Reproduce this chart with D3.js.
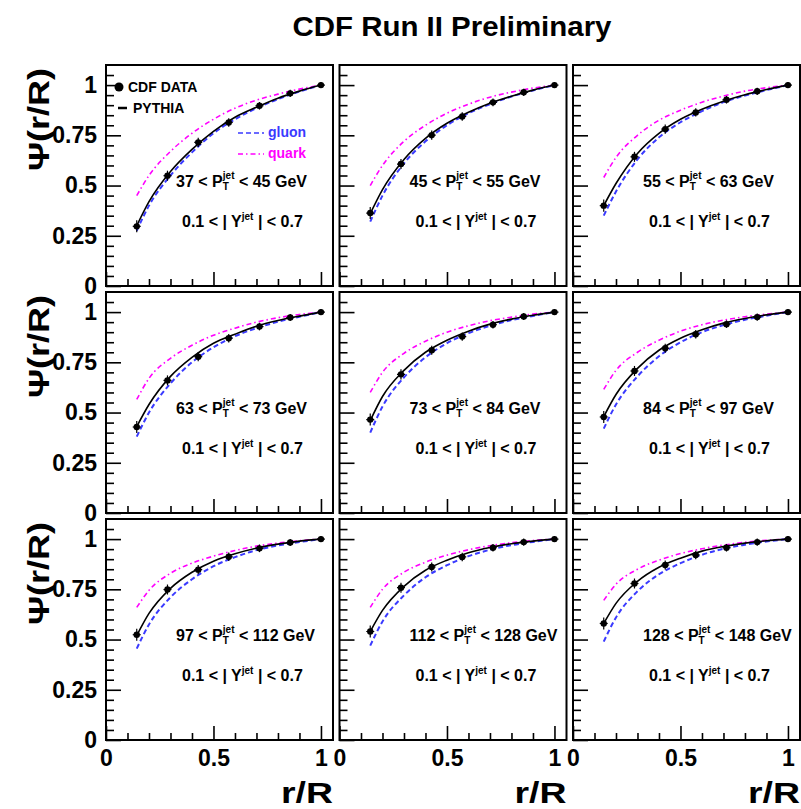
<!DOCTYPE html>
<html>
<head>
<meta charset="utf-8">
<script src="https://cdn.jsdelivr.net/npm/d3@7/dist/d3.min.js"></script>
<style>
  html, body { margin: 0; padding: 0; background: #fff; }
  svg { display: block; font-family: "Liberation Sans", Arial, Helvetica, sans-serif; }
</style>
</head>
<body>
<svg id="chart" width="801" height="809"></svg>
<script>
// ---------------- data ----------------
const chartTitle = "CDF Run II Preliminary";
const ptLow  = [37, 45, 55, 63, 73, 84, 97, 112, 128];
const ptHigh = [45, 55, 63, 73, 84, 97, 112, 128, 148];
const rapidityLabel = ["0.1", "0.7"];

// r/R positions of CDF data points (r = 0.1 ... 0.7, R = 0.7)
const dataR = [0.143, 0.286, 0.429, 0.571, 0.714, 0.857, 1.0];
const cdfData = [
  [0.297, 0.549, 0.715, 0.814, 0.897, 0.959, 1.0],
  [0.363, 0.607, 0.751, 0.844, 0.914, 0.964, 1.0],
  [0.400, 0.643, 0.781, 0.864, 0.927, 0.969, 1.0],
  [0.428, 0.660, 0.778, 0.870, 0.928, 0.973, 1.0],
  [0.465, 0.690, 0.810, 0.878, 0.937, 0.978, 1.0],
  [0.478, 0.707, 0.820, 0.890, 0.940, 0.975, 1.0],
  [0.524, 0.749, 0.848, 0.912, 0.954, 0.983, 1.0],
  [0.540, 0.758, 0.861, 0.911, 0.957, 0.985, 1.0],
  [0.580, 0.779, 0.871, 0.921, 0.957, 0.985, 1.0]
];
const cdfErr = [0.015, 0.01, 0.008, 0.006, 0.004, 0.003, 0.0];

// r/R nodes of the MC curves
const curveR = [0.143, 0.2, 0.3, 0.4, 0.5, 0.6, 0.7, 0.8, 0.9, 1.0];
const pythia = [
  [0.30, 0.42, 0.57, 0.68, 0.77, 0.84, 0.89, 0.935, 0.97, 1.0],
  [0.36, 0.48, 0.63, 0.735, 0.81, 0.865, 0.91, 0.945, 0.975, 1.0],
  [0.40, 0.51, 0.66, 0.76, 0.83, 0.88, 0.92, 0.952, 0.978, 1.0],
  [0.43, 0.54, 0.68, 0.775, 0.845, 0.89, 0.93, 0.958, 0.98, 1.0],
  [0.46, 0.58, 0.71, 0.80, 0.86, 0.905, 0.94, 0.965, 0.984, 1.0],
  [0.48, 0.59, 0.72, 0.81, 0.87, 0.912, 0.945, 0.968, 0.986, 1.0],
  [0.52, 0.63, 0.755, 0.835, 0.89, 0.927, 0.955, 0.975, 0.99, 1.0],
  [0.54, 0.645, 0.765, 0.845, 0.895, 0.932, 0.958, 0.977, 0.99, 1.0],
  [0.58, 0.68, 0.79, 0.86, 0.905, 0.94, 0.963, 0.98, 0.992, 1.0]
];
const gluon = [
  [0.275, 0.40, 0.55, 0.665, 0.76, 0.83, 0.885, 0.93, 0.968, 1.0],
  [0.32, 0.45, 0.61, 0.72, 0.80, 0.86, 0.905, 0.943, 0.973, 1.0],
  [0.35, 0.47, 0.63, 0.74, 0.815, 0.87, 0.915, 0.948, 0.975, 1.0],
  [0.38, 0.50, 0.645, 0.75, 0.825, 0.88, 0.92, 0.952, 0.977, 1.0],
  [0.40, 0.53, 0.675, 0.775, 0.845, 0.895, 0.932, 0.96, 0.981, 1.0],
  [0.42, 0.54, 0.68, 0.78, 0.85, 0.90, 0.935, 0.962, 0.982, 1.0],
  [0.455, 0.575, 0.71, 0.80, 0.865, 0.91, 0.945, 0.968, 0.985, 1.0],
  [0.47, 0.59, 0.72, 0.81, 0.87, 0.915, 0.947, 0.97, 0.986, 1.0],
  [0.49, 0.61, 0.74, 0.825, 0.88, 0.922, 0.952, 0.972, 0.988, 1.0]
];
const quark = [
  [0.45, 0.55, 0.67, 0.76, 0.83, 0.885, 0.925, 0.955, 0.98, 1.0],
  [0.50, 0.60, 0.72, 0.80, 0.86, 0.905, 0.94, 0.965, 0.985, 1.0],
  [0.54, 0.64, 0.75, 0.825, 0.875, 0.915, 0.945, 0.97, 0.987, 1.0],
  [0.565, 0.67, 0.77, 0.835, 0.885, 0.92, 0.95, 0.972, 0.988, 1.0],
  [0.60, 0.70, 0.795, 0.855, 0.90, 0.932, 0.957, 0.975, 0.99, 1.0],
  [0.615, 0.71, 0.80, 0.86, 0.905, 0.937, 0.96, 0.977, 0.99, 1.0],
  [0.66, 0.745, 0.83, 0.88, 0.915, 0.943, 0.965, 0.98, 0.992, 1.0],
  [0.66, 0.75, 0.835, 0.885, 0.92, 0.947, 0.967, 0.982, 0.993, 1.0],
  [0.695, 0.775, 0.85, 0.895, 0.928, 0.952, 0.97, 0.984, 0.994, 1.0]
];

const yMajorTicks = [0, 0.25, 0.5, 0.75, 1];
const yTickLabels = ["0", "0.25", "0.5", "0.75", "1"];
const xMajorTicks = [0, 0.5, 1];
const xTickLabels = ["0", "0.5", "1"];
const yMinorTicks = [0.05,0.1,0.15,0.2,0.3,0.35,0.4,0.45,0.55,0.6,0.65,0.7,0.8,0.85,0.9,0.95,1.05];
const xMinorTicks = [0.1,0.2,0.3,0.4,0.6,0.7,0.8,0.9];

const legendLabels = ["CDF DATA", "PYTHIA", "gluon", "quark"];
const yTitle = "\u03A8(r/R)";
const xTitle = "r/R";

// ---------------- layout ----------------
const svg = d3.select("#chart");
const PW = 227, PH = 221;
const colX = [106, 339.5, 573];
const rowY = [65, 292, 519];

const COL_GLUON = "#3a3aff";
const COL_QUARK = "#ff00ff";

const x = d3.scaleLinear().domain([0, 1.056]).range([0, PW]);
const y = d3.scaleLinear().domain([0, 1.1]).range([PH, 0]);

const defs = svg.append("defs");

svg.append("text")
  .attr("x", 452).attr("y", 36)
  .attr("text-anchor", "middle")
  .attr("font-size", 28).attr("font-weight", "bold")
  .attr("textLength", 319).attr("lengthAdjust", "spacingAndGlyphs")
  .text(chartTitle);

const lineGen = d3.line()
  .x(d => x(d[0])).y(d => y(d[1]))
  .curve(d3.curveMonotoneX);

for (let i = 0; i < 9; i++) {
  const r = Math.floor(i / 3), c = i % 3;
  const g = svg.append("g").attr("transform", `translate(${colX[c]},${rowY[r]})`);

  defs.append("clipPath").attr("id", "clip" + i)
    .append("rect").attr("x", 0).attr("y", 0).attr("width", PW).attr("height", PH);

  // axes (ticks inside)
  const yMinor = d3.axisLeft(y).tickValues(yMinorTicks).tickSize(-8).tickFormat("");
  const yMajor = d3.axisLeft(y).tickValues(yMajorTicks).tickSize(-15)
      .tickPadding(9).tickFormat((d, k) => c === 0 ? yTickLabels[k] : "");
  const xMinor = d3.axisBottom(x).tickValues(xMinorTicks).tickSize(-7).tickFormat("");
  const xMajor = d3.axisBottom(x).tickValues(xMajorTicks).tickSize(-14)
      .tickPadding(10).tickFormat((d, k) => r === 2 ? xTickLabels[k] : "");

  [yMinor, yMajor].forEach(ax => {
    const a = g.append("g").call(ax);
    a.select(".domain").remove();
    a.selectAll("line").attr("stroke", "#000").attr("stroke-width", 1.6);
    a.selectAll("text").attr("font-size", 23).attr("font-weight", "bold").attr("fill", "#000")
      .attr("font-family", "Liberation Sans, Arial, sans-serif");
  });
  [xMinor, xMajor].forEach(ax => {
    const a = g.append("g").attr("transform", `translate(0,${PH})`).call(ax);
    a.select(".domain").remove();
    a.selectAll("line").attr("stroke", "#000").attr("stroke-width", 1.6);
    a.selectAll("text").attr("font-size", 23).attr("font-weight", "bold").attr("fill", "#000")
      .attr("font-family", "Liberation Sans, Arial, sans-serif");
  });

  const inner = g.append("g").attr("clip-path", `url(#clip${i})`);

  // curves
  inner.append("path")
    .datum(curveR.map((v, k) => [v, quark[i][k]]))
    .attr("d", lineGen).attr("fill", "none")
    .attr("stroke", COL_QUARK).attr("stroke-width", 1.6)
    .attr("stroke-dasharray", "5,3,1.5,3");
  inner.append("path")
    .datum(curveR.map((v, k) => [v, gluon[i][k]]))
    .attr("d", lineGen).attr("fill", "none")
    .attr("stroke", COL_GLUON).attr("stroke-width", 2)
    .attr("stroke-dasharray", "5,3");
  inner.append("path")
    .datum(curveR.map((v, k) => [v, pythia[i][k]]))
    .attr("d", lineGen).attr("fill", "none")
    .attr("stroke", "#000").attr("stroke-width", 1.6);

  // data points
  const pts = inner.append("g");
  dataR.forEach((rv, k) => {
    const px = x(rv), py = y(cdfData[i][k]);
    const e = y(0) - y(cdfErr[k]);
    pts.append("line").attr("x1", px).attr("x2", px)
      .attr("y1", py - e - 3).attr("y2", py + e + 3)
      .attr("stroke", "#000").attr("stroke-width", 1.2);
    pts.append("line").attr("x1", px - 4).attr("x2", px + 4)
      .attr("y1", py).attr("y2", py)
      .attr("stroke", "#000").attr("stroke-width", 1.2);
    pts.append("circle").attr("cx", px).attr("cy", py).attr("r", 3.2).attr("fill", "#000");
  });

  // bin labels
  const t1 = inner.append("text").attr("x", 70).attr("y", 122)
    .attr("font-size", 16).attr("font-weight", "bold").attr("fill", "#000");
  t1.append("tspan").text(`${ptLow[i]} < P`);
  t1.append("tspan").attr("font-size", 10).attr("dy", 3).text("T");
  t1.append("tspan").attr("font-size", 10).attr("dx", -6).attr("dy", -11).text("jet");
  t1.append("tspan").attr("dy", 8).text(` < ${ptHigh[i]} GeV`);

  const t2 = inner.append("text").attr("x", 76).attr("y", 162)
    .attr("font-size", 16).attr("font-weight", "bold").attr("fill", "#000");
  t2.append("tspan").text(`${rapidityLabel[0]} < | Y`);
  t2.append("tspan").attr("font-size", 10).attr("dy", -7).text("jet");
  t2.append("tspan").attr("dy", 7).text(` | < ${rapidityLabel[1]}`);

  // legend in first panel
  if (i === 0) {
    const lg = inner.append("g");
    lg.append("circle").attr("cx", 13).attr("cy", 22).attr("r", 4.5).attr("fill", "#000");
    lg.append("text").attr("x", 22).attr("y", 27).attr("font-size", 14).attr("font-weight", "bold")
      .text(legendLabels[0]);
    lg.append("line").attr("x1", 12).attr("x2", 21).attr("y1", 43).attr("y2", 43)
      .attr("stroke", "#000").attr("stroke-width", 2.5);
    lg.append("text").attr("x", 27).attr("y", 48).attr("font-size", 14).attr("font-weight", "bold")
      .text(legendLabels[1]);
    lg.append("line").attr("x1", 132).attr("x2", 158).attr("y1", 68).attr("y2", 68)
      .attr("stroke", COL_GLUON).attr("stroke-width", 1.6).attr("stroke-dasharray", "5,3");
    lg.append("text").attr("x", 162).attr("y", 72).attr("font-size", 14).attr("font-weight", "bold")
      .attr("fill", COL_GLUON).text(legendLabels[2]);
    lg.append("line").attr("x1", 132).attr("x2", 158).attr("y1", 89).attr("y2", 89)
      .attr("stroke", COL_QUARK).attr("stroke-width", 1.6).attr("stroke-dasharray", "5,3,1.5,3");
    lg.append("text").attr("x", 162).attr("y", 93).attr("font-size", 14).attr("font-weight", "bold")
      .attr("fill", COL_QUARK).text(legendLabels[3]);
  }

  // frame
  g.append("rect").attr("x", 0).attr("y", 0).attr("width", PW).attr("height", PH)
    .attr("fill", "none").attr("stroke", "#000").attr("stroke-width", 2);

  // axis titles
  if (c === 0) {
    svg.append("text")
      .attr("transform", `translate(49,${rowY[r] + 3}) rotate(-90)`)
      .attr("text-anchor", "end")
      .attr("font-size", 30).attr("font-weight", "bold")
      .attr("textLength", 103).attr("lengthAdjust", "spacingAndGlyphs")
      .text(yTitle);
  }
  if (r === 2) {
    svg.append("text")
      .attr("x", colX[c] + PW).attr("y", 803)
      .attr("text-anchor", "end")
      .attr("font-size", 30).attr("font-weight", "bold")
      .attr("textLength", 52).attr("lengthAdjust", "spacingAndGlyphs")
      .text(xTitle);
  }
}
</script>
</body>
</html>
